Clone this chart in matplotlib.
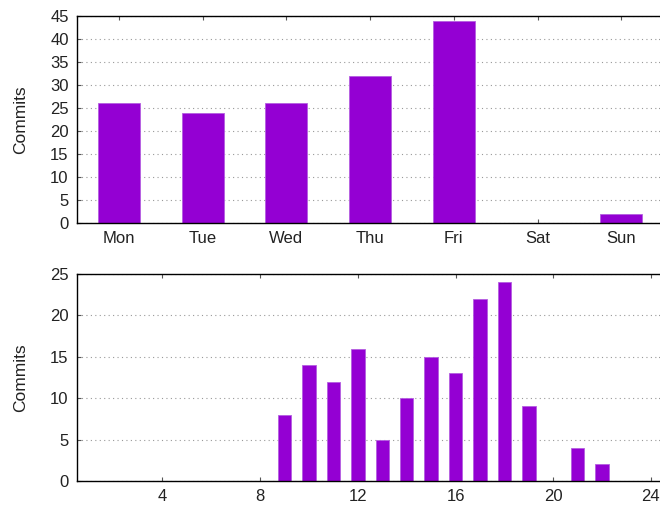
import matplotlib
matplotlib.use("Agg")
import matplotlib.pyplot as plt

plt.rcParams['font.family'] = ['Liberation Sans', 'DejaVu Sans']

days = ["Mon", "Tue", "Wed", "Thu", "Fri", "Sat", "Sun"]
day_commits = [26, 24, 26, 32, 44, 0, 2]

hours = [9, 10, 11, 12, 13, 14, 15, 16, 17, 18, 19, 20, 21, 22]
hour_commits = [8, 14, 12, 16, 5, 10, 15, 13, 22, 24, 9, 0, 4, 2]

bar_color = "#9400D3"
text_color = "#222222"

fig = plt.figure(figsize=(6.6, 5.05), dpi=100)
ax1 = fig.add_axes([0.1167, 0.5584, 0.888, 0.41])
ax2 = fig.add_axes([0.1167, 0.0475, 0.888, 0.41])


def style(ax):
    ax.set_axisbelow(True)
    ax.grid(axis='y', linestyle=(0, (1, 3)), color='#999999', linewidth=0.8)
    ax.tick_params(direction='in', length=3, top=True, right=True,
                   labelsize=12, labelcolor=text_color, color='#555555', pad=6)
    for s in ax.spines.values():
        s.set_linewidth(1.0)
        s.set_color('black')
    ax.set_ylabel("Commits", fontsize=12.5, color=text_color)
    ax.yaxis.set_label_coords(-0.084, 0.5)


# commits per weekday
ax1.bar(range(len(days)), day_commits, width=0.5, color=bar_color,
        edgecolor='#b45ee0', linewidth=0.6)
ax1.set_xlim(-0.5, 6.5)
ax1.set_ylim(0, 45)
ax1.set_yticks(range(0, 46, 5))
ax1.set_xticks(range(len(days)))
ax1.set_xticklabels(days)
style(ax1)

# commits per hour of day
ax2.bar(hours, hour_commits, width=0.55, color=bar_color,
        edgecolor='#b45ee0', linewidth=0.6)
ax2.set_xlim(0.5, 24.5)
ax2.set_ylim(0, 25)
ax2.set_yticks(range(0, 26, 5))
ax2.set_xticks(range(4, 25, 4))
style(ax2)

fig.savefig("out.png", dpi=100)
